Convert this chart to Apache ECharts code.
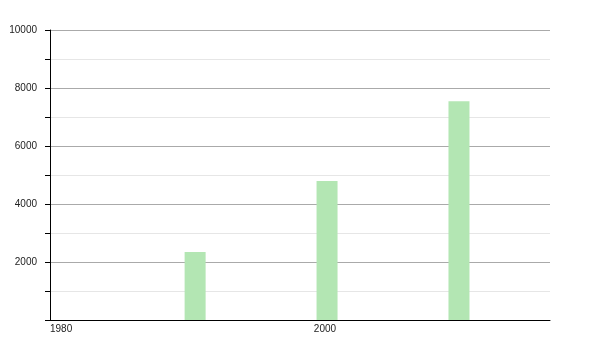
<!DOCTYPE html>
<html>
<head>
<meta charset="utf-8">
<script src="https://cdn.jsdelivr.net/npm/echarts@6/dist/echarts.min.js"></script>
<style>
html,body{margin:0;padding:0;background:#fff;}
#chart{width:600px;height:350px;}
</style>
</head>
<body>
<div id="chart"></div>
<script>
var years = [1991, 2001, 2011];
var values = [2345, 4790, 7540];
var yTicks = [0, 2000, 4000, 6000, 8000, 10000];

var chart = echarts.init(document.getElementById('chart'), null, {renderer: 'canvas'});
chart.setOption({
  animation: false,
  backgroundColor: '#ffffff',
  grid: {left: 50, right: 50, top: 30, bottom: 30, containLabel: false},
  xAxis: {
    type: 'value',
    min: 1980,
    max: 2017.9,
    interval: 20,
    axisLine: {show: true, lineStyle: {color: '#000', width: 1}},
    axisTick: {show: false},
    splitLine: {show: false},
    axisLabel: {
      show: true,
      align: 'left',
      margin: 4,
      fontFamily: 'Liberation Sans, Arial, sans-serif',
      fontSize: 10,
      color: '#222',
      showMaxLabel: false,
      formatter: function (v) { return String(v); }
    }
  },
  yAxis: {
    type: 'value',
    min: yTicks[0],
    max: yTicks[yTicks.length - 1],
    interval: 2000,
    axisLine: {show: true, lineStyle: {color: '#000', width: 1}},
    axisTick: {show: true, inside: false, length: 5, lineStyle: {color: '#000'}},
    minorTick: {show: true, splitNumber: 2, length: 5, lineStyle: {color: '#000'}},
    splitLine: {show: true, lineStyle: {color: '#aaaaaa', width: 1}},
    minorSplitLine: {show: true, lineStyle: {color: '#e6e6e6', width: 1}},
    axisLabel: {
      show: true,
      margin: 13,
      showMinLabel: false,
      fontFamily: 'Liberation Sans, Arial, sans-serif',
      fontSize: 10,
      color: '#222',
      formatter: function (v) { return String(v); }
    }
  },
  series: [{
    type: 'bar',
    data: years.map(function (y, i) { return [y, values[i]]; }),
    barWidth: 21,
    itemStyle: {color: '#b3e6b3'}
  }]
});
</script>
</body>
</html>
